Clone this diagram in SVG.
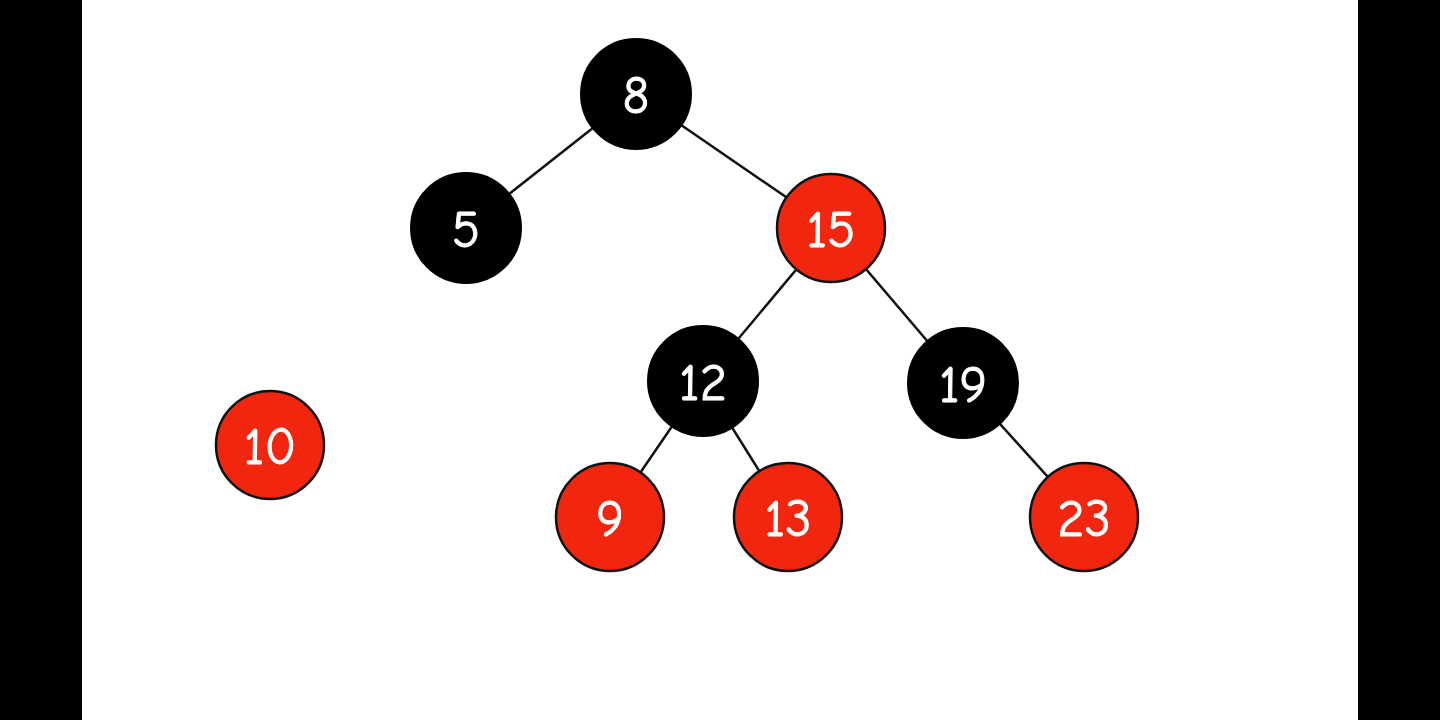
<svg xmlns="http://www.w3.org/2000/svg" width="1440" height="720" viewBox="0 0 1440 720">
<style>
.edge{stroke:#111;stroke-width:2.5}
.blk{fill:#000;stroke:#000;stroke-width:2}
.red{fill:#f2260f;stroke:#111;stroke-width:2.5}
.lbl{fill:#fff;stroke:#fff;stroke-width:1;font-family:"Comic Neue","DejaVu Sans",sans-serif;font-size:52px;font-weight:500;text-anchor:middle;dominant-baseline:central}
</style>
<rect x="0" y="0" width="1440" height="720" fill="#fff"/>
<rect x="0" y="0" width="82" height="720" fill="#000"/>
<rect x="1358" y="0" width="82" height="720" fill="#000"/>
<g id="connectors">
<line class="edge" x1="636" y1="94" x2="466" y2="228"/>
<line class="edge" x1="636" y1="94" x2="831" y2="228"/>
<line class="edge" x1="831" y1="228" x2="703" y2="381"/>
<line class="edge" x1="831" y1="228" x2="963" y2="383"/>
<line class="edge" x1="703" y1="381" x2="610" y2="517"/>
<line class="edge" x1="703" y1="381" x2="788" y2="517"/>
<line class="edge" x1="963" y1="383" x2="1084" y2="517"/>
</g>
<g id="n8"><circle class="blk" cx="636" cy="94" r="55"/><text class="lbl" x="636" y="96">8</text></g>
<g id="n5"><circle class="blk" cx="466" cy="228" r="55"/><text class="lbl" x="466" y="230">5</text></g>
<g id="n15"><circle class="red" cx="831" cy="228" r="54"/><text class="lbl" x="831" y="230">15</text></g>
<g id="n12"><circle class="blk" cx="703" cy="381" r="55"/><text class="lbl" x="703" y="383">12</text></g>
<g id="n19"><circle class="blk" cx="963" cy="383" r="55"/><text class="lbl" x="963" y="385">19</text></g>
<g id="n10"><circle class="red" cx="270" cy="445" r="54"/><text class="lbl" x="270" y="447">10</text></g>
<g id="n9"><circle class="red" cx="610" cy="517" r="54"/><text class="lbl" x="610" y="519">9</text></g>
<g id="n13"><circle class="red" cx="788" cy="517" r="54"/><text class="lbl" x="788" y="519">13</text></g>
<g id="n23"><circle class="red" cx="1084" cy="517" r="54"/><text class="lbl" x="1084" y="519">23</text></g>
</svg>
